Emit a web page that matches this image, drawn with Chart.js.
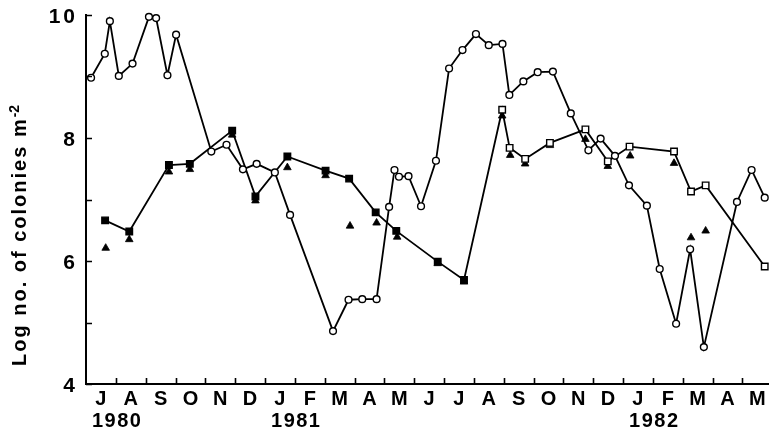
<!DOCTYPE html>
<html>
<head>
<meta charset="utf-8">
<script src="https://cdn.jsdelivr.net/npm/chart.js@4.4.0/dist/chart.umd.min.js"></script>
<style>
  html, body { margin: 0; padding: 0; background: #fff; }
  #wrap { width: 774px; height: 429px; }
</style>
</head>
<body>
<div id="wrap"><canvas id="chart" width="774" height="429"></canvas></div>
<script>
// months counted from 1 July 1980
const monthLabels = ["J", "A", "S", "O", "N", "D", "J", "F", "M", "A", "M", "J",
  "J", "A", "S", "O", "N", "D", "J", "F", "M", "A", "M"];
const yearLabels = ["1980", "1981", "1982"];
const yearStartMonths = [0, 6, 18];
const yTicks = [4, 6, 8, 10];

// open circles
const circleMonths = [0.17, 0.63, 0.80, 1.10, 1.56, 2.11, 2.35, 2.73, 3.02, 4.20, 4.71, 5.26,
  5.72, 6.33, 6.84, 8.28, 8.80, 9.26, 9.74, 10.16, 10.34, 10.49, 10.81, 11.23, 11.73, 12.17,
  12.62, 13.07, 13.50, 13.96, 14.19, 14.66, 15.14, 15.65, 16.25, 16.84, 17.25, 17.73, 18.20,
  18.80, 19.23, 19.78, 20.25, 20.71, 21.82, 22.31, 22.75];
const circleValues = [8.98, 9.37, 9.90, 9.01, 9.21, 9.97, 9.95, 9.02, 9.68, 7.78, 7.89, 7.49,
  7.58, 7.44, 6.75, 4.86, 5.37, 5.38, 5.38, 6.88, 7.48, 7.37, 7.38, 6.89, 7.63, 9.13,
  9.43, 9.69, 9.51, 9.53, 8.70, 8.92, 9.07, 9.08, 8.40, 7.80, 7.99, 7.71, 7.23,
  6.90, 5.87, 4.98, 6.19, 4.60, 6.96, 7.48, 7.03];

// squares (filled up to July 1981, open afterwards)
const squareMonths = [0.64, 1.45, 2.78, 3.48, 4.90, 5.68, 6.75, 8.03, 8.82, 9.71, 10.40, 11.79,
  12.67, 13.95, 14.20, 14.72, 15.55, 16.74, 17.49, 18.22, 19.71, 20.28, 20.77, 22.75];
const squareValues = [6.66, 6.48, 7.56, 7.58, 8.12, 7.05, 7.70, 7.47, 7.34, 6.79, 6.49, 5.99,
  5.69, 8.46, 7.84, 7.66, 7.92, 8.14, 7.62, 7.86, 7.78, 7.13, 7.23, 5.91];
const squareFilled = [true, true, true, true, true, true, true, true, true, true, true, true,
  true, false, false, false, false, false, false, false, false, false, false, false];

// filled triangles
const triangleMonths = [0.66, 1.45, 2.78, 3.48, 4.90, 5.68, 6.75, 8.03, 8.85, 9.74, 10.43, 11.79,
  12.67, 13.95, 14.22, 14.72, 15.55, 16.74, 17.49, 18.24, 19.71, 20.28, 20.77];
const triangleValues = [6.21, 6.35, 7.45, 7.49, 8.05, 6.98, 7.52, 7.39, 6.57, 6.62, 6.39, 5.96,
  5.66, 8.36, 7.72, 7.58, 7.88, 7.98, 7.54, 7.71, 7.59, 6.38, 6.49];

const toPoints = (xs, ys) => xs.map((m, i) => ({ x: m, y: ys[i] }));

const FONT = '"Liberation Sans", Arial, Helvetica, sans-serif';

const axisText = {
  id: "axisText",
  afterDraw(chart) {
    const { ctx, chartArea: a, scales: { x, y } } = chart;
    ctx.save();
    ctx.strokeStyle = "#000";
    ctx.lineWidth = 1.6;
    ctx.beginPath();
    for (let v = 4; v <= 10; v++) {
      const py = Math.round(y.getPixelForValue(v)) + 0.5;
      ctx.moveTo(a.left, py);
      ctx.lineTo(a.left + 6, py);
    }
    for (let m = 1; m < monthLabels.length; m++) {
      const px = Math.round(x.getPixelForValue(m)) + 0.5;
      ctx.moveTo(px, a.bottom);
      ctx.lineTo(px, a.bottom - 6);
    }
    ctx.stroke();

    ctx.fillStyle = "#000";
    ctx.textBaseline = "middle";

    // y tick labels
    ctx.font = "bold 21px " + FONT;
    ctx.letterSpacing = "3px";
    ctx.textAlign = "right";
    yTicks.forEach((v) => {
      ctx.fillText(String(v), a.left - 11 + 3, y.getPixelForValue(v) + 2);
    });

    // month labels
    ctx.font = "bold 20px " + FONT;
    ctx.letterSpacing = "0px";
    ctx.textAlign = "center";
    monthLabels.forEach((lab, i) => {
      ctx.fillText(lab, x.getPixelForValue(i + 0.5), a.bottom + 15);
    });

    // year labels
    ctx.letterSpacing = "1.5px";
    ctx.textAlign = "left";
    yearLabels.forEach((lab, i) => {
      ctx.fillText(lab, x.getPixelForValue(yearStartMonths[i]) + 6, a.bottom + 37);
    });

    // y axis title with superscript
    ctx.save();
    ctx.translate(26, 366);
    ctx.rotate(-Math.PI / 2);
    ctx.textAlign = "left";
    ctx.textBaseline = "alphabetic";
    ctx.font = "bold 20px " + FONT;
    ctx.letterSpacing = "2px";
    const main = "Log no. of colonies m";
    ctx.fillText(main, 0, 0);
    const w = ctx.measureText(main).width;
    ctx.font = "bold 14px " + FONT;
    ctx.letterSpacing = "0px";
    ctx.fillText("-2", w, -7);
    ctx.restore();

    ctx.restore();
  }
};

new Chart(document.getElementById("chart"), {
  type: "line",
  data: {
    datasets: [
      {
        label: "circles",
        data: toPoints(circleMonths, circleValues),
        borderColor: "#000",
        borderWidth: 1.8,
        pointStyle: "circle",
        pointRadius: 3.4,
        pointBorderWidth: 1.4,
        pointBorderColor: "#000",
        pointBackgroundColor: "#fff",
        tension: 0,
        clip: false,
      },
      {
        label: "squares",
        data: toPoints(squareMonths, squareValues),
        borderColor: "#000",
        borderWidth: 1.8,
        pointStyle: "rect",
        pointRadius: 4.6,
        pointBorderWidth: 1.4,
        pointBorderColor: "#000",
        pointBackgroundColor: squareFilled.map((f) => (f ? "#000" : "#fff")),
        tension: 0,
        clip: false,
      },
      {
        label: "triangles",
        data: toPoints(triangleMonths, triangleValues),
        showLine: false,
        pointStyle: "triangle",
        pointRadius: 4.4,
        pointBorderWidth: 0.8,
        pointBorderColor: "#000",
        pointBackgroundColor: "#000",
        clip: false,
      },
    ],
  },
  options: {
    responsive: false,
    animation: false,
    layout: { padding: { top: 15, left: 0, right: 0, bottom: 0 } },
    plugins: {
      legend: { display: false },
      tooltip: { enabled: false },
    },
    scales: {
      x: {
        type: "linear",
        min: 0,
        max: 22.86,
        ticks: { display: false },
        grid: { display: false },
        border: { display: true, color: "#000", width: 2 },
        afterFit: (scale) => { scale.height = 45; },
      },
      y: {
        min: 4,
        max: 10,
        ticks: { display: false },
        grid: { display: false },
        border: { display: true, color: "#000", width: 2 },
        afterFit: (scale) => { scale.width = 86; },
      },
    },
  },
  plugins: [axisText],
});
</script>
</body>
</html>
